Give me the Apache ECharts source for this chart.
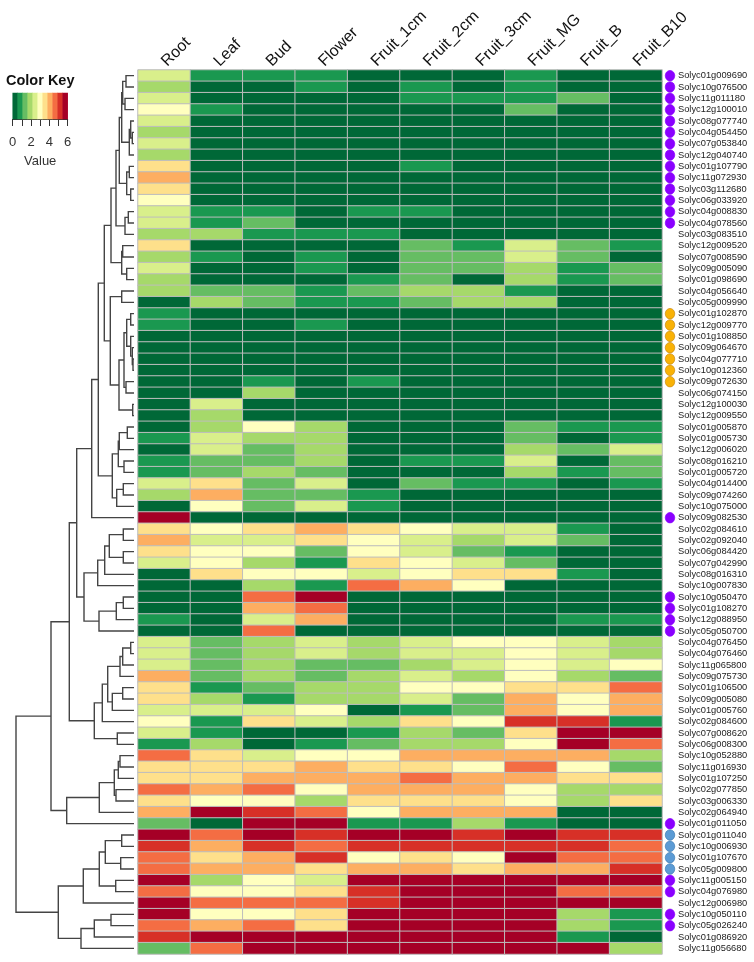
<!DOCTYPE html>
<html><head><meta charset="utf-8">
<style>html,body{margin:0;padding:0;background:#fff}#c{width:754px;height:962px}</style>
<script src="https://cdn.jsdelivr.net/npm/echarts@6/dist/echarts.min.js"></script>
</head><body><div id="c"></div>
<script>
const samples = ['Root','Leaf','Bud','Flower','Fruit_1cm','Fruit_2cm','Fruit_3cm','Fruit_MG','Fruit_B','Fruit_B10'];
const genes = ['Solyc01g009690','Solyc10g076500','Solyc11g011180','Solyc12g100010','Solyc08g077740','Solyc04g054450','Solyc07g053840','Solyc12g040740','Solyc01g107790','Solyc11g072930','Solyc03g112680','Solyc06g033920','Solyc04g008830','Solyc04g078560','Solyc03g083510','Solyc12g009520','Solyc07g008590','Solyc09g005090','Solyc01g098690','Solyc04g056640','Solyc05g009990','Solyc01g102870','Solyc12g009770','Solyc01g108850','Solyc09g064670','Solyc04g077710','Solyc10g012360','Solyc09g072630','Solyc06g074150','Solyc12g100030','Solyc12g009550','Solyc01g005870','Solyc01g005730','Solyc12g006020','Solyc08g016210','Solyc01g005720','Solyc04g014400','Solyc09g074260','Solyc10g075000','Solyc09g082530','Solyc02g084610','Solyc02g092040','Solyc06g084420','Solyc07g042990','Solyc08g016310','Solyc10g007830','Solyc10g050470','Solyc01g108270','Solyc12g088950','Solyc05g050700','Solyc04g076450','Solyc04g076460','Solyc11g065800','Solyc09g075730','Solyc01g106500','Solyc09g005080','Solyc01g005760','Solyc02g084600','Solyc07g008620','Solyc06g008300','Solyc10g052880','Solyc11g016930','Solyc01g107250','Solyc02g077850','Solyc03g006330','Solyc02g064940','Solyc01g011050','Solyc01g011040','Solyc10g006930','Solyc01g107670','Solyc05g009800','Solyc11g005150','Solyc04g076980','Solyc12g006980','Solyc10g050110','Solyc05g026240','Solyc01g086920','Solyc11g056680'];
const expression = [
[2.5,.8,.8,.8,.3,.3,.3,.8,.3,.3],
[1.9,.3,.3,.8,.3,.8,.3,.8,.3,.3],
[2.5,.3,.3,.3,.3,.8,.8,.8,1.4,.3],
[3,.8,.3,.3,.3,.3,.3,1.4,.3,.3],
[2.5,.3,.3,.3,.3,.3,.3,.3,.3,.3],
[1.9,.3,.3,.3,.3,.3,.3,.3,.3,.3],
[2.5,.3,.3,.3,.3,.3,.3,.3,.3,.3],
[1.9,.3,.3,.3,.3,.3,.3,.3,.3,.3],
[3.5,.3,.3,.3,.3,.8,.3,.3,.3,.3],
[4.1,.3,.3,.3,.3,.3,.3,.3,.3,.3],
[3.5,.3,.3,.3,.3,.3,.3,.3,.3,.3],
[3,.3,.3,.3,.3,.3,.3,.3,.3,.3],
[2.5,.8,.8,.3,.8,.8,.3,.3,.3,.3],
[2.5,.8,1.4,.3,.3,.3,.3,.3,.3,.3],
[1.9,1.9,.8,.8,.8,.3,.3,.3,.3,.3],
[3.5,.3,.3,.3,.3,1.4,.8,2.5,1.4,.8],
[1.9,.8,.3,.8,.3,1.4,1.4,2.5,1.4,.3],
[2.5,.3,.3,.8,.3,1.4,1.4,1.9,.8,1.4],
[1.9,.3,.3,.3,.8,1.4,.3,1.9,.8,1.4],
[1.9,1.4,1.4,.8,1.4,1.9,1.9,.8,.3,.3],
[.3,1.9,1.4,.8,.8,1.4,1.9,1.9,.3,.3],
[.8,.3,.3,.3,.3,.3,.3,.3,.3,.3],
[.8,.3,.3,.8,.3,.3,.3,.3,.3,.3],
[.3,.3,.3,.3,.3,.3,.3,.3,.3,.3],
[.3,.3,.3,.3,.3,.3,.3,.3,.3,.3],
[.3,.3,.3,.3,.3,.3,.3,.3,.3,.3],
[.3,.3,.3,.3,.3,.3,.3,.3,.3,.3],
[.3,.3,.8,.3,.8,.3,.3,.3,.3,.3],
[.3,.3,1.9,.3,.3,.3,.3,.3,.3,.3],
[.3,2.5,.3,.3,.3,.3,.3,.3,.3,.3],
[.3,1.9,.3,.3,.3,.3,.3,.3,.3,.3],
[.3,1.9,3,1.9,.3,.3,.3,1.4,.8,.8],
[.8,2.5,1.9,1.9,.3,.3,.3,1.4,.3,.8],
[.3,2.5,1.4,1.9,.3,.3,.3,1.9,1.4,2.5],
[.8,1.4,1.4,1.9,.3,.8,.8,2.5,.3,1.4],
[.8,1.4,1.9,1.4,.3,.3,.3,1.9,.8,1.4],
[2.5,3.5,1.4,2.5,.3,1.4,.8,.8,.3,.8],
[1.9,4.1,1.4,1.4,.8,.3,.3,.3,.3,.3],
[.3,3,1.4,2.5,.8,.3,.3,.3,.3,.3],
[5.7,.3,.3,.3,.3,.3,.3,.3,.3,.3],
[3.5,3,3.5,4.1,3.5,3,2.5,2.5,.8,.3],
[4.1,2.5,2.5,3.5,3,2.5,1.9,2.5,1.4,.3],
[3.5,3,3,1.4,3,2.5,1.4,.8,.3,.3],
[2.5,3,1.9,.8,3.5,3,2.5,1.4,.3,.3],
[.3,3.5,3,3,2.5,3,3.5,3.5,.8,.3],
[.3,.3,1.9,.8,4.6,4.1,3,.3,.3,.3],
[.3,.3,4.6,5.7,.3,.3,.3,.3,.3,.3],
[.3,.3,4.1,4.6,.3,.3,.3,.3,.3,.3],
[.8,.3,2.5,4.1,.3,.3,.3,.3,.8,.8],
[.3,.3,4.6,.3,.3,.3,.3,.3,.3,.3],
[2.5,1.4,1.9,2.5,1.9,2.5,3,3,2.5,1.9],
[2.5,1.4,1.9,2.5,1.9,2.5,2.5,3,2.5,1.9],
[2.5,1.4,1.9,1.4,1.4,1.9,2.5,3,2.5,3],
[4.1,1.4,1.9,1.4,1.9,2.5,1.9,3,1.9,1.4],
[3.5,.8,1.4,1.9,1.9,3,3,3.5,3.5,4.6],
[3.5,1.9,.8,1.9,1.9,2.5,1.4,4.1,3,4.1],
[2.5,2.5,2.5,3,.3,.8,1.4,4.1,3,4.1],
[3,.8,3.5,2.5,1.9,3.5,3,5.2,5.2,.8],
[2.5,.8,.3,.3,.8,1.9,1.4,3.5,5.7,5.7],
[.8,1.9,.3,.8,1.4,1.9,1.9,3,5.7,4.6],
[4.6,3.5,2.5,3,3,4.1,4.1,4.1,4.1,1.9],
[3.5,3.5,3.5,4.1,3.5,3.5,3,4.6,3,1.4],
[3.5,3.5,4.1,4.1,4.1,4.6,4.1,4.1,3.5,3.5],
[4.6,4.1,4.6,3,4.1,4.1,4.1,3,1.9,1.9],
[3.5,3,3,1.9,3.5,3.5,3.5,3,1.9,3.5],
[4.1,5.7,5.2,4.6,3,4.1,4.1,4.1,.3,.3],
[1.4,.3,5.7,5.7,.8,.8,1.9,.8,.3,.3],
[5.7,4.6,5.7,5.2,5.7,5.7,5.2,5.7,5.2,5.2],
[5.2,4.1,5.2,4.6,5.2,5.2,5.2,5.2,5.2,4.6],
[4.6,3.5,4.1,5.2,3,3.5,3,5.7,4.6,4.6],
[4.6,4.1,4.1,3.5,4.1,4.1,3.5,4.1,4.1,5.2],
[5.7,1.9,3,2.5,5.7,5.7,5.7,5.7,5.7,5.7],
[4.6,3,3,3.5,5.2,5.7,5.7,5.7,4.6,4.6],
[5.7,4.6,4.6,4.6,5.2,5.7,5.7,5.7,5.7,5.7],
[5.7,3,3,3.5,5.7,5.7,5.7,5.7,1.9,.8],
[4.6,4.1,4.6,3.5,5.7,5.7,5.7,5.7,1.9,.8],
[5.2,5.7,5.7,5.7,5.7,5.7,5.7,5.7,.8,.3],
[1.4,4.6,5.7,5.7,5.7,5.7,5.7,5.7,5.7,1.9]
];
const keyColors = ['#006837','#1a9850','#66bd63','#a6d96a','#d9ef8b','#ffffbf','#fee08b','#fdae61','#f46d43','#d73027','#a50026'];
const keyRange = [0,6];
// gene marker groups, by row number (1-based)
const purpleRows = [1,2,3,4,5,6,7,8,9,10,11,12,13,14,40,47,48,49,50,67,72,73,75,76];
const orangeRows = [22,23,24,25,26,27,28];
const blueRows = [68,69,70,71];
// dendrogram merges: [height, childA, childB]; a number child is a row number
const cladeA = [11.3,[8,1,2],[9,3,4]];
const cladeB = [4.7,[3.3,5,[1.7,6,7]],8];
const cladeC = [7.3,[4.7,9,10],[3.3,11,12]];
const cladeD = [9,[5.7,13,14],15];
const cladeE = [12.3,[11.3,16,17],[7.3,18,19]];
const cladeF = [10,[7.3,[3.3,22,23],[3.3,24,[1.7,25,[1,26,27]]]],[8,28,29]];
const cladeG = [21.7,[15.7,[14.7,[6.7,32,33],34],[10,35,36]],[17.3,[10.7,37,38],39]];
const cladeH = [50,[36.3,[29.3,[24.7,[10.7,41,42],[10.7,43,44]],45],46],[35,[17.7,[10.7,47,48],49],50]];
const cladeI = [39.7,[31.7,[26.3,[14,[11.3,[3.3,51,52],53],54],[21.7,[11.3,55,56],57]],58],[16.7,59,60]];
const cladeJ = [67.3,[34.7,[19.7,[15.7,[14,61,62],63],[18,64,65]],66],67];
const cladeK = [75.7,[50.7,[34.7,[28.7,[12.3,68,69],[13.3,70,71]],[18.3,72,73]],74],[53,[39.7,[23,75,76],77],78]];
const cladeT2 = [23,[18,[14.7,[12.3,cladeA,cladeB],cladeC],cladeD],cladeE];
const cladeT3 = [23.7,[12.3,20,21],[15,cladeF,[1.3,30,31]]];
const cladeT6 = [42.3,[35.7,[29.7,cladeT2,cladeT3],cladeG],40];
const dendrogram = [118,[83,[64.7,[57.3,cladeT6,cladeH],cladeI],cladeJ],cladeK];

const segs = [];
(function walk(n){
  if (typeof n === 'number') return [0, n-1];
  const a = walk(n[1]), b = walk(n[2]);
  segs.push([a[0],a[1],n[0],b[1],b[0]]);
  return [n[0],(a[1]+b[1])/2];
}) (dendrogram);

const heat = [];
expression.forEach((r,i)=>r.forEach((v,j)=>heat.push([j,i,v])));
const step = (keyRange[1]-keyRange[0])/keyColors.length;
const pieces = keyColors.map((c,i)=>({min:keyRange[0]+i*step,max:keyRange[0]+(i+1)*step,color:c}));
const keyData = keyColors.map((c,i)=>[i,0,keyRange[0]+(i+.5)*step]);
const marker = (rows,color,border)=>({type:'scatter',xAxisIndex:2,yAxisIndex:2,symbol:'circle',symbolSize:[9.5,10.5],
  data:rows.map(r=>[0,r-1]),itemStyle:{color,borderColor:border,borderWidth:.7,opacity:1},silent:true});
const font='"Liberation Sans",Arial,sans-serif';

const chart = echarts.init(document.getElementById('c'),null,{renderer:'canvas'});
chart.setOption({
  animation:false,
  backgroundColor:'#fff',
  textStyle:{fontFamily:font},
  title:{text:'Color Key',left:1,top:68,textStyle:{fontSize:14.5,fontWeight:'bold',color:'#111',fontFamily:font}},
  visualMap:{type:'piecewise',show:false,dimension:2,seriesIndex:[0,2],pieces},
  grid:[
    {left:138,top:70,width:524,height:884},
    {left:10,top:70,width:124,height:884},
    {left:664,top:70,width:12,height:884},
    {left:12.7,top:93,width:55,height:26}
  ],
  xAxis:[
    {gridIndex:0,type:'category',data:samples,position:'top',axisLine:{show:false},axisTick:{show:false},
     axisLabel:{rotate:-45,interval:0,fontSize:16,color:'#111',margin:6,align:'left',verticalAlign:'middle',padding:[0,0,13,0]}},
    {gridIndex:1,type:'value',min:0,max:124,inverse:true,show:false},
    {gridIndex:2,type:'value',min:-1,max:1,show:false},
    {gridIndex:3,type:'category',data:keyColors.map((c,i)=>i),show:false},
    {gridIndex:3,type:'value',min:keyRange[0],max:keyRange[1],interval:1,position:'bottom',
     axisLine:{show:true,lineStyle:{color:'#333'}},axisTick:{show:true,length:7,lineStyle:{color:'#333'}},splitLine:{show:false},
     axisLabel:{fontSize:13,color:'#333',margin:17,formatter:v=>v%2===0?String(v):''},
     name:'Value',nameLocation:'middle',nameGap:36,nameTextStyle:{fontSize:13,color:'#333'}}
  ],
  yAxis:[
    {gridIndex:0,type:'category',data:genes,inverse:true,position:'right',axisLine:{show:false},axisTick:{show:false},
     axisLabel:{interval:0,fontSize:9.3,color:'#222',margin:16}},
    {gridIndex:1,type:'value',min:-.5,max:77.5,inverse:true,show:false},
    {gridIndex:2,type:'category',data:genes,inverse:true,show:false},
    {gridIndex:3,type:'category',data:['key'],show:false}
  ],
  series:[
    {type:'heatmap',xAxisIndex:0,yAxisIndex:0,data:heat,itemStyle:{borderColor:'#bdbdbd',borderWidth:1},silent:true,progressive:0},
    {type:'custom',xAxisIndex:1,yAxisIndex:1,silent:true,data:segs,encode:{x:[0,2,4],y:[1,3]},
     renderItem:(p,api)=>{
       const a=api.coord([api.value(0),api.value(1)]),b=api.coord([api.value(2),api.value(1)]),
             c=api.coord([api.value(2),api.value(3)]),d=api.coord([api.value(4),api.value(3)]);
       return {type:'polyline',shape:{points:[a,b,c,d]},style:{stroke:'#444',lineWidth:1.4,fill:null}};
     }},
    {type:'heatmap',xAxisIndex:3,yAxisIndex:3,data:keyData,silent:true},
    marker(purpleRows,'#8a00ff','#8a00ff'),
    marker(orangeRows,'#f9b206','#c98a10'),
    marker(blueRows,'#5b9bd5','#3f7cb3')
  ]
});
</script></body></html>
